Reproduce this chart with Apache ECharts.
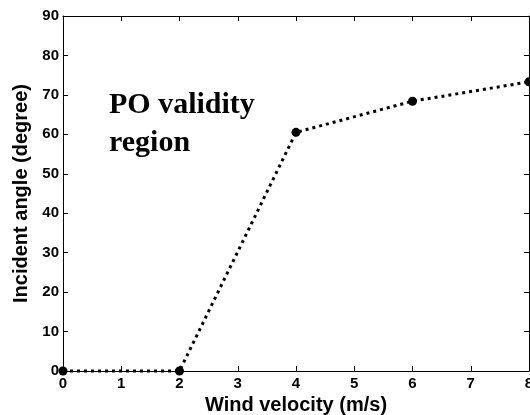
<!DOCTYPE html>
<html>
<head>
<meta charset="utf-8">
<script src="https://cdn.jsdelivr.net/npm/echarts@6/dist/echarts.min.js"></script>
<style>
  html, body { margin: 0; padding: 0; background: #fff; }
  #chart { width: 530px; height: 415px; }
</style>
</head>
<body>
<div id="chart"></div>
<script>
var windVelocity = [0, 2, 4, 6, 8];
var incidentAngle = [0, 0, 60.5, 68.4, 73.3];
var xTicks = [0, 1, 2, 3, 4, 5, 6, 7, 8];
var yTicks = [0, 10, 20, 30, 40, 50, 60, 70, 80, 90];

var points = windVelocity.map(function (v, i) { return [v, incidentAngle[i]]; });

var labelFont = { color: '#000', fontFamily: 'Liberation Sans', fontWeight: 'bold', fontSize: 15 };
var nameFont = { color: '#000', fontFamily: 'Liberation Sans', fontWeight: 'bold', fontSize: 20 };

function axisLine() {
    return { show: true, onZero: false, lineStyle: { color: '#000', width: 1 } };
}
function tick() {
    return { show: true, inside: true, length: 5, lineStyle: { color: '#000' } };
}

var chart = echarts.init(document.getElementById('chart'));
chart.setOption({
    animation: false,
    backgroundColor: '#fff',
    grid: { left: 63, top: 16, right: 1, bottom: 44, containLabel: false, outerBoundsMode: 'none' },
    xAxis: [{
        type: 'value', min: xTicks[0], max: xTicks[xTicks.length - 1], interval: 1,
        axisLine: axisLine(), axisTick: tick(), splitLine: { show: false },
        axisLabel: Object.assign({ margin: 5 }, labelFont),
        name: 'Wind velocity (m/s)', nameLocation: 'middle', nameGap: 16,
        nameTextStyle: nameFont
    }, {
        type: 'value', min: xTicks[0], max: xTicks[xTicks.length - 1], interval: 1, position: 'top',
        axisLine: axisLine(), axisTick: tick(), splitLine: { show: false }, axisLabel: { show: false }
    }],
    yAxis: [{
        type: 'value', min: yTicks[0], max: yTicks[yTicks.length - 1], interval: 10,
        axisLine: axisLine(), axisTick: tick(), splitLine: { show: false },
        axisLabel: Object.assign({ margin: 4 }, labelFont),
        name: 'Incident angle (degree)', nameLocation: 'middle', nameGap: 31,
        nameTextStyle: nameFont
    }, {
        type: 'value', min: yTicks[0], max: yTicks[yTicks.length - 1], interval: 10, position: 'right',
        axisLine: axisLine(), axisTick: tick(), splitLine: { show: false }, axisLabel: { show: false }
    }],
    graphic: [{
        type: 'text', left: 109, top: 86,
        style: {
            text: 'PO validity\nregion',
            font: 'bold 30px "Liberation Serif"',
            lineHeight: 38,
            fill: '#000'
        }
    }],
    series: [{
        type: 'line',
        data: points,
        symbol: 'circle',
        symbolSize: 9,
        itemStyle: { color: '#000' },
        lineStyle: { color: '#000', width: 3, type: [3, 4] },
        clip: false
    }]
});
</script>
</body>
</html>
